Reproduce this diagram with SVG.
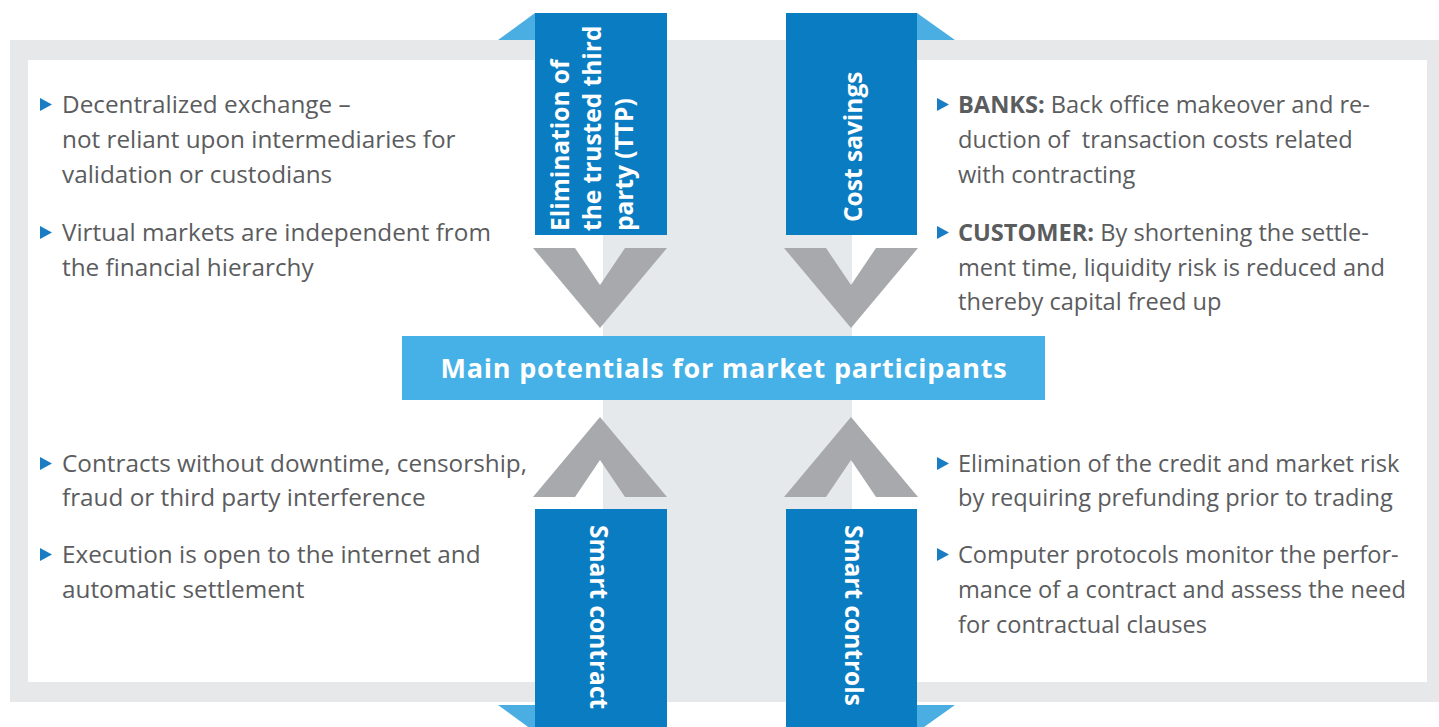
<svg xmlns="http://www.w3.org/2000/svg" width="1439" height="727" viewBox="0 0 1439 727">
<style>
.body{font-family:"Open Sans","Liberation Sans",sans-serif;font-size:23.6px;fill:#5b5c5e}
.left .body{font-size:24.3px}
.b{font-weight:bold}
.tab{font-family:"Open Sans","Liberation Sans",sans-serif;font-size:24.5px;font-weight:bold;fill:#ffffff}
.banner{font-family:"Open Sans","Liberation Sans",sans-serif;font-size:27px;font-weight:bold;fill:#ffffff;letter-spacing:0.8px}
.tabbox{fill:#0a7cc2}
.tri{fill:#4aaee3}
.chev{fill:#a7a9ac}
.bul{fill:#1a7dc4}
</style>
<defs>
<polygon id="bullet" points="0,0 12,6.5 0,13"/>
</defs>
<rect width="1439" height="727" fill="#ffffff"/>
<g id="frame">
<rect x="10" y="40" width="1429" height="662" fill="#e7e8e9"/>
<rect x="28" y="60" width="1399" height="622" fill="#ffffff"/>
<rect x="603" y="40" width="249" height="662" fill="#e6e9ec"/>
</g>
<g id="connectors">
<polygon class="chev" points="533,248 575,248 600,285 625,248 667,248 600,328"/>
<polygon class="chev" points="784,248 826,248 851,285 876,248 918,248 851,328"/>
<polygon class="chev" points="533,497 575,497 600,460 625,497 667,497 600,417"/>
<polygon class="chev" points="784,497 826,497 851,460 876,497 918,497 851,417"/>
</g>
<g id="tab-ttp">
<polygon class="tri" points="498,40 535,13 535,40"/>
<rect class="tabbox" x="535" y="13" width="132" height="222"/>
<text class="tab" transform="translate(569,231) rotate(-90)">Elimination of</text>
<text class="tab" transform="translate(601,231) rotate(-90)">the trusted third</text>
<text class="tab" transform="translate(633,231) rotate(-90)">party (TTP)</text>
</g>
<g id="tab-cost">
<polygon class="tri" points="917,13 955,40 917,40"/>
<rect class="tabbox" x="786" y="13" width="131" height="222"/>
<text class="tab" transform="translate(862,222) rotate(-90)">Cost savings</text>
</g>
<g id="tab-smart-contract">
<polygon class="tri" points="498,705 535,705 535,732"/>
<rect class="tabbox" x="535" y="509" width="132" height="218"/>
<text class="tab" transform="translate(590,525) rotate(90)">Smart contract</text>
</g>
<g id="tab-smart-controls">
<polygon class="tri" points="917,705 955,705 917,732"/>
<rect class="tabbox" x="786" y="509" width="131" height="218"/>
<text class="tab" transform="translate(845,525) rotate(90)">Smart controls</text>
</g>
<g id="banner">
<rect x="402" y="336" width="643" height="64" fill="#45b1e6"/>
<text class="banner" x="724" y="378" text-anchor="middle">Main potentials for market participants</text>
</g>
<g id="top-left-text" class="left">
<use href="#bullet" class="bul" x="40" y="98"/>
<text class="body" x="62" y="113">Decentralized exchange –</text>
<text class="body" x="62" y="148">not reliant upon intermediaries for</text>
<text class="body" x="62" y="183">validation or custodians</text>
<use href="#bullet" class="bul" x="40" y="226"/>
<text class="body" x="62" y="241">Virtual markets are independent from</text>
<text class="body" x="62" y="276">the financial hierarchy</text>
</g>
<g id="top-right-text">
<use href="#bullet" class="bul" x="937" y="98"/>
<text class="body" x="958" y="113"><tspan class="b">BANKS:</tspan> Back office makeover and re-</text>
<text class="body" x="958" y="148" xml:space="preserve">duction of  transaction costs related</text>
<text class="body" x="958" y="183">with contracting</text>
<use href="#bullet" class="bul" x="937" y="226"/>
<text class="body" x="958" y="241"><tspan class="b">CUSTOMER:</tspan> By shortening the settle-</text>
<text class="body" x="958" y="276">ment time, liquidity risk is reduced and</text>
<text class="body" x="958" y="310">thereby capital freed up</text>
</g>
<g id="bottom-left-text" class="left">
<use href="#bullet" class="bul" x="40" y="457"/>
<text class="body" x="62" y="472">Contracts without downtime, censorship,</text>
<text class="body" x="62" y="506">fraud or third party interference</text>
<use href="#bullet" class="bul" x="40" y="548"/>
<text class="body" x="62" y="563">Execution is open to the internet and</text>
<text class="body" x="62" y="598">automatic settlement</text>
</g>
<g id="bottom-right-text">
<use href="#bullet" class="bul" x="937" y="457"/>
<text class="body" x="958" y="472">Elimination of the credit and market risk</text>
<text class="body" x="958" y="506">by requiring prefunding prior to trading</text>
<use href="#bullet" class="bul" x="937" y="548"/>
<text class="body" x="958" y="563">Computer protocols monitor the perfor-</text>
<text class="body" x="958" y="598">mance of a contract and assess the need</text>
<text class="body" x="958" y="633">for contractual clauses</text>
</g>
</svg>
